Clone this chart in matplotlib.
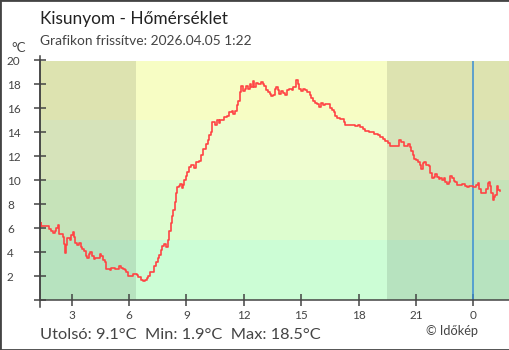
import numpy as np
import matplotlib
matplotlib.use('Agg')
import matplotlib.pyplot as plt
from matplotlib.patches import Rectangle

plt.rcParams['font.family'] = ['Lato', 'DejaVu Sans']

# hours since midnight of the first day (24 = next midnight)
hours = [1.36, 1.38, 1.41, 1.76, 1.81, 1.93, 2.02, 2.11, 2.19, 2.28, 2.35, 2.46, 2.53, 2.58,
         2.63, 2.69, 2.77, 2.93, 2.98, 3.05, 3.12, 3.19, 3.29, 3.37, 3.47, 3.55, 3.64, 3.75,
         3.80, 3.89, 3.97, 4.06, 4.15, 4.24, 4.38, 4.47, 4.55, 4.64, 4.73, 4.81, 4.90, 4.99,
         5.07, 5.25, 5.34, 5.46, 5.57, 5.69, 5.77, 5.86, 5.95, 6.12, 6.21, 6.43, 6.49, 6.61,
         6.72, 6.84, 6.93, 7.01, 7.10, 7.24, 7.32, 7.41, 7.50, 7.59, 7.68, 7.74, 7.83, 7.92,
         7.97, 8.04, 8.11, 8.18, 8.25, 8.32, 8.39, 8.46, 8.53, 8.60, 8.67, 8.76, 8.81, 8.88,
         8.97, 9.05, 9.14, 9.23, 9.31, 9.40, 9.49, 9.68, 9.77, 9.86, 10.03, 10.12, 10.20,
         10.29, 10.36, 10.50, 10.59, 10.68, 10.76, 10.91, 10.97, 11.12, 11.25, 11.38, 11.46,
         11.55, 11.64, 11.72, 11.81, 11.88, 11.95, 12.04, 12.13, 12.21, 12.30, 12.39, 12.48,
         12.56, 12.65, 12.77, 12.90, 12.98, 13.08, 13.17, 13.26, 13.35, 13.43, 13.52, 13.63,
         13.70, 13.79, 13.85, 13.94, 14.05, 14.17, 14.26, 14.34, 14.52, 14.60, 14.73, 14.81,
         14.90, 14.99, 15.09, 15.21, 15.30, 15.44, 15.51, 15.62, 15.70, 15.83, 15.91, 16.04,
         16.12, 16.23, 16.47, 16.52, 16.61, 16.70, 16.79, 16.87, 17.01, 17.14, 17.22, 17.31,
         17.66, 17.83, 17.95, 18.09, 18.21, 18.36, 18.53, 18.71, 18.83, 19.00, 19.14, 19.28,
         19.40, 19.52, 19.63, 19.93, 20.05, 20.14, 20.24, 20.40, 20.50, 20.57, 20.68, 20.76,
         20.85, 20.92, 21.03, 21.09, 21.20, 21.29, 21.36, 21.45, 21.55, 21.67, 21.76, 21.85,
         21.93, 22.02, 22.11, 22.19, 22.28, 22.37, 22.46, 22.54, 22.63, 22.72, 22.81, 22.90,
         22.98, 23.07, 23.16, 23.42, 23.59, 23.68, 23.76, 23.97, 24.12, 24.24, 24.32, 24.38,
         24.59, 24.68, 24.76, 24.81, 24.86, 24.94, 25.01, 25.07, 25.16, 25.25, 25.30, 25.39]
temps = [6.2, 6.45, 6.2, 6.2, 5.95, 5.8, 5.6, 5.8, 6.0, 6.3, 5.5, 5.5, 5.3, 4.7,
         3.9, 4.6, 5.2, 5.05, 5.4, 5.7, 5.3, 4.8, 4.6, 4.8, 4.45, 4.3, 4.1, 3.7,
         3.5, 3.8, 4.0, 3.7, 3.4, 3.5, 3.5, 3.85, 3.7, 3.3, 3.2, 2.55, 2.6, 2.5,
         2.7, 2.55, 2.6, 2.85, 2.7, 2.6, 2.5, 2.3, 2.0, 2.0, 2.2, 2.1, 1.95, 1.7,
         1.6, 1.7, 1.8, 2.0, 2.3, 2.35, 2.8, 3.2, 3.5, 3.75, 4.15, 4.5, 4.7, 4.45,
         4.45, 5.0, 5.8, 6.4, 7.0, 7.55, 8.2, 8.9, 9.4, 9.5, 9.65, 9.35, 9.6, 10.0,
         10.35, 10.7, 11.1, 11.3, 11.3, 11.0, 11.5, 11.6, 12.1, 12.6, 13.05, 13.35, 13.75,
         14.0, 14.85, 14.6, 15.0, 14.8, 15.05, 15.0, 15.3, 15.4, 15.7, 15.8, 15.55,
         15.8, 16.25, 16.65, 17.35, 17.9, 17.45, 17.6, 17.9, 17.6, 18.05, 17.75, 18.25,
         17.8, 18.1, 18.0, 18.2, 18.05, 17.9, 17.5, 17.35, 17.2, 17.0, 17.1, 17.6,
         17.75, 17.5, 17.2, 17.45, 17.3, 17.1, 17.55, 17.6, 17.5, 17.75, 18.4, 18.05,
         17.6, 17.45, 17.6, 17.55, 17.35, 17.15, 16.85, 16.65, 16.45, 16.4, 16.15, 16.45,
         16.25, 16.4, 16.4, 16.0, 15.9, 15.7, 15.4, 15.2, 15.15, 15.1, 14.85, 14.65,
         14.6, 14.55, 14.6, 14.45, 14.25, 14.15, 14.0, 14.0, 13.85, 13.8, 13.65, 13.45,
         13.3, 13.1, 12.9, 12.85, 12.85, 13.35, 13.2, 12.9, 12.9, 13.05, 12.8, 12.45,
         12.15, 11.8, 11.7, 11.5, 11.25, 10.95, 11.4, 11.5, 11.3, 11.15, 10.6, 10.2,
         10.25, 10.55, 10.3, 10.1, 10.2, 10.05, 10.15, 9.85, 9.7, 9.85, 10.35, 10.2,
         9.95, 9.85, 9.6, 9.65, 9.5, 9.45, 9.55, 9.45, 9.6, 9.8, 9.3, 8.95,
         8.95, 9.3, 9.8, 9.85, 9.55, 8.9, 8.35, 8.6, 8.8, 9.55, 9.15, 9.1]

band_edges = [0, 5, 10, 15, 20]
band_colors = ['#ccfdd5', '#ddfdcf', '#effdd0', '#f7fdc4']
sunrise, sunset = 6.38, 19.49
x_min, x_max = 1.36, 25.87
xtick_pos = [3, 6, 9, 12, 15, 18, 21, 24]
xtick_labels = ['3', '6', '9', '12', '15', '18', '21', '0']
ytick_pos = [0, 2, 4, 6, 8, 10, 12, 14, 16, 18, 20]
ytick_labels = ['', '2', '4', '6', '8', '10', '12', '14', '16', '18', '20']

fig = plt.figure(figsize=(5.1, 3.5), dpi=100)
ax = fig.add_axes([40.3 / 510, 50 / 350, (509 - 40.3) / 510, 239.5 / 350])

for i in range(len(band_colors)):
    ax.axhspan(band_edges[i], band_edges[i + 1], color=band_colors[i], lw=0, zorder=0)
ax.axvspan(x_min, sunrise, color='black', alpha=0.1, lw=0, zorder=1)
ax.axvspan(sunset, x_max, color='black', alpha=0.1, lw=0, zorder=1)
ax.axvline(24, color='#3a8ed4', lw=1.1, zorder=2)

ax.plot(hours, temps, color='#ff4444', lw=1.2, drawstyle='steps-post', zorder=3)

ax.set_xlim(x_min, x_max)
ax.set_ylim(0, 20)
ax.set_xticks(xtick_pos)
ax.set_xticklabels(xtick_labels)
ax.set_yticks(ytick_pos)
ax.set_yticklabels(ytick_labels, ha='left')

for s in ['top', 'right']:
    ax.spines[s].set_visible(False)
for s in ['left', 'bottom']:
    ax.spines[s].set_color('#444444')
    ax.spines[s].set_linewidth(1.1)
ax.tick_params(axis='both', direction='inout', length=9, width=1.1, color='#444444',
               labelcolor='#444444', labelsize=8.5)
ax.tick_params(axis='y', pad=19.5)
ax.tick_params(axis='x', pad=2.5)
# axis lines run a little past the plot area
ax.plot([0, 0], [-0.03, 1.02], transform=ax.transAxes, color='#444444', lw=1.1, clip_on=False, zorder=5)

fig.text(40 / 510, 1 - 24 / 350, 'Kisunyom - Hőmérséklet', fontsize=12.4, color='#222222')
fig.text(40 / 510, 1 - 45 / 350, 'Grafikon frissítve: 2026.04.05 1:22', fontsize=9.9, color='#444444')
fig.text(11 / 510, 1 - 52 / 350, '°C', fontsize=9.5, color='#444444')
fig.text(40 / 510, 1 - 339 / 350, 'Utolsó: 9.1°C  Min: 1.9°C  Max: 18.5°C', fontsize=11.8, color='#444444')
fig.text(426 / 510, 1 - 335 / 350, '© Időkép', fontsize=9.2, color='#444444')

fig.patches.append(Rectangle((0, 0), 1, 1, transform=fig.transFigure, fill=False,
                             edgecolor='#444444', lw=2))

fig.savefig('out.png', dpi=100)
